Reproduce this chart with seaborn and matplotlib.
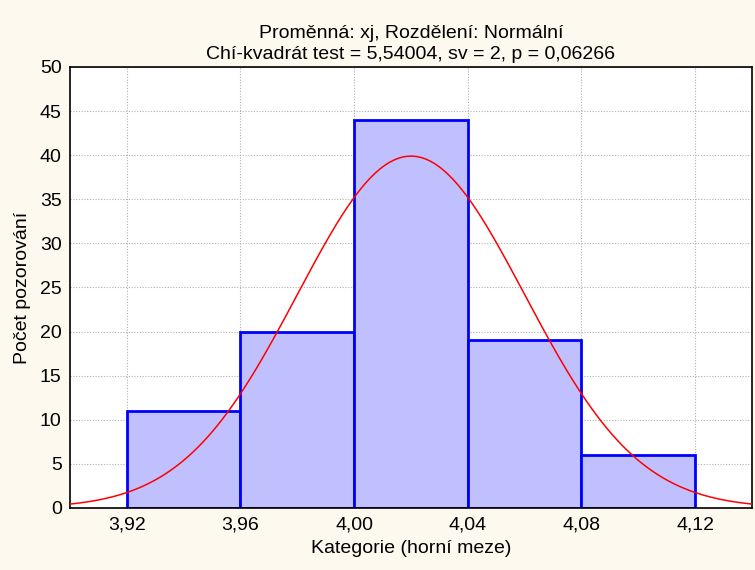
import numpy as np
import pandas as pd
import matplotlib
matplotlib.use("Agg")
import matplotlib.pyplot as plt
import seaborn as sns
from matplotlib import font_manager

# Data
bin_edges = [3.92, 3.96, 4.00, 4.04, 4.08, 4.12]
counts = [11, 20, 44, 19, 6]
x_ticks = [3.92, 3.96, 4.00, 4.04, 4.08, 4.12]
x_tick_labels = ["3,92", "3,96", "4,00", "4,04", "4,08", "4,12"]
y_ticks = [0, 5, 10, 15, 20, 25, 30, 35, 40, 45, 50]
fit_mean = 4.02
fit_sd = 0.04
n_obs = 100
title = "Proměnná: xj, Rozdělení: Normální\nChí-kvadrát test = 5,54004, sv = 2, p = 0,06266"
xlabel = "Kategorie (horní meze)"
ylabel = "Počet pozorování"

sns.set_theme(style="white")
names = {f.name for f in font_manager.fontManager.ttflist}
fam = "Liberation Sans Narrow" if "Liberation Sans Narrow" in names else "Liberation Sans"
plt.rcParams['font.family'] = [fam, 'DejaVu Sans']
plt.rcParams['text.color'] = 'black'
plt.rcParams['axes.labelcolor'] = 'black'

bg = "#FDF9EF"
fig = plt.figure(figsize=(7.55, 5.7), dpi=100, facecolor=bg)
ax = fig.add_axes([0.0927, 0.1088, 0.9033, 0.7737])
ax.set_facecolor("white")

centers = [(bin_edges[i] + bin_edges[i + 1]) / 2 for i in range(len(counts))]
df = pd.DataFrame({"x": centers, "w": counts})
sns.histplot(data=df, x="x", weights="w", bins=bin_edges, ax=ax,
             color="#C0C0FF", alpha=1, edgecolor="#0000FF", linewidth=2, zorder=2)

xs = np.linspace(3.90, 4.14, 400)
binw = bin_edges[1] - bin_edges[0]
ys = n_obs * binw / (fit_sd * np.sqrt(2 * np.pi)) * np.exp(-0.5 * ((xs - fit_mean) / fit_sd) ** 2)
sns.lineplot(x=xs, y=ys, ax=ax, color="#FF0000", linewidth=1.1, zorder=3)

ax.set_xlim(3.90, 4.14)
ax.set_ylim(0, 50)
ax.set_xticks(x_ticks)
ax.set_xticklabels(x_tick_labels)
ax.set_yticks(y_ticks)
ax.grid(True, color="#B0B0B0", linestyle=(0, (1, 1.5)), linewidth=0.8, zorder=0)
ax.set_axisbelow(True)
for s in ax.spines.values():
    s.set_color("black")
    s.set_linewidth(1.2)
ax.tick_params(axis="both", direction="in", length=4, width=1, labelsize=14, colors="black",
               pad=6)
ax.set_title(title, fontsize=14, pad=6, linespacing=1.25, color="black")
ax.set_xlabel(xlabel, fontsize=14, labelpad=5, color="black")
ax.set_ylabel(ylabel, fontsize=14, labelpad=6, color="black")

fig.savefig("out.png", dpi=100, facecolor=bg)
